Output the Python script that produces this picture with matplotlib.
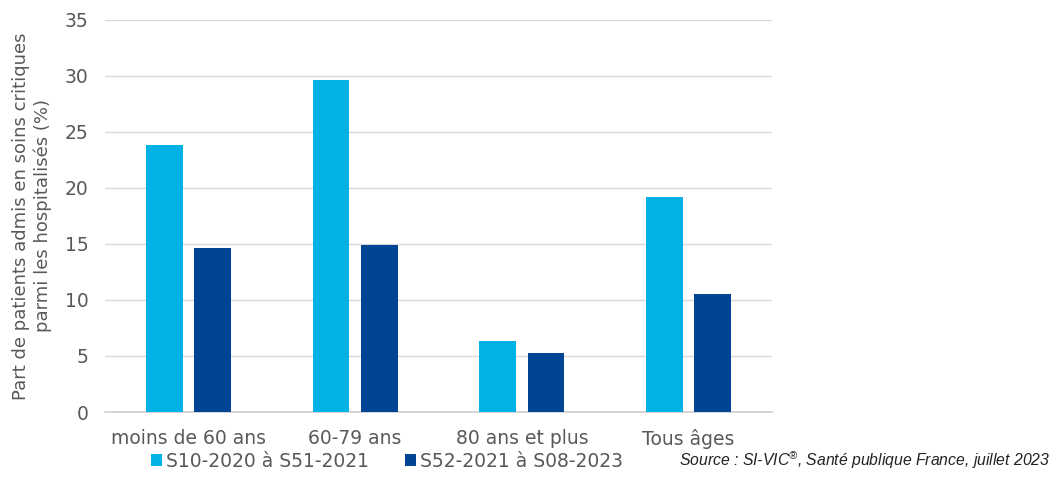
import numpy as np
import matplotlib.pyplot as plt

plt.rcParams['font.family'] = ['DejaVu Sans']
plt.rcParams['mathtext.fontset'] = 'custom'
plt.rcParams['mathtext.rm'] = 'Liberation Sans:italic'

categories = ['moins de 60 ans', '60-79 ans', '80 ans et plus', 'Tous âges']
series_names = ['S10-2020 à S51-2021', 'S52-2021 à S08-2023']
periode1 = [23.8, 29.6, 6.3, 19.2]
periode2 = [14.6, 14.9, 5.3, 10.5]
colors = ['#00B2E6', '#004494']
grey = '#595959'

fig = plt.figure(figsize=(10.56, 4.97), dpi=100)
ax = fig.add_axes([0.0994, 0.171, 0.6316, 0.789])

x = np.arange(len(categories))
w = 0.22
ax.bar(x - 0.145, periode1, w, color=colors[0], label=series_names[0], zorder=3)
ax.bar(x + 0.145, periode2, w, color=colors[1], label=series_names[1], zorder=3)

ax.set_xlim(-0.5, len(categories) - 0.5)
ax.set_ylim(0, 35)
ax.set_yticks(range(0, 36, 5))
ax.set_xticks(x)
ax.set_xticklabels(categories)
ax.tick_params(axis='both', length=0, labelsize=13.5, colors=grey)
ax.tick_params(axis='x', pad=12)
ax.tick_params(axis='y', pad=12)
ax.yaxis.grid(True, color='#d9d9d9', linewidth=1, zorder=0)
for s in ['top', 'right', 'left']:
    ax.spines[s].set_visible(False)
ax.spines['bottom'].set_color('#d0d0d0')
ax.spines['bottom'].set_linewidth(1.2)

ax.set_ylabel('Part de patients admis en soins critiques\nparmi les hospitalisés (%)',
              fontsize=13, color=grey, linespacing=1.25, labelpad=9)

leg = fig.legend(loc='center left', bbox_to_anchor=(0.127, 0.072), ncol=2,
                 frameon=False, fontsize=13.5, handlelength=0.6, handleheight=0.6,
                 handletextpad=0.2, columnspacing=1.9)
for t in leg.get_texts():
    t.set_color(grey)

fig.text(0.995, 0.074, 'Source : SI-VIC$^{\\mathrm{®}}$, Santé publique France, juillet 2023',
         ha='right', va='center', fontsize=11.3, style='italic', color='#222222',
         family='Liberation Sans')

fig.savefig('out.png', dpi=100)
